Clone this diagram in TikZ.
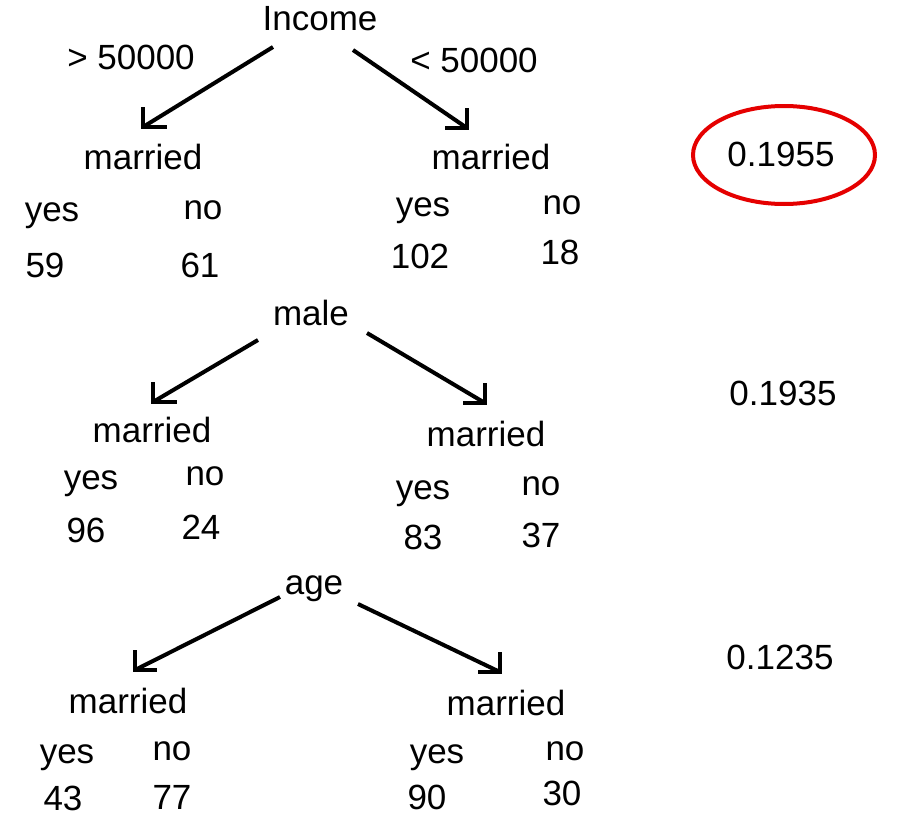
\documentclass[tikz,border=0pt]{standalone}
\usepackage{fontspec}
\setmainfont{Liberation Sans}
\begin{document}
\begin{tikzpicture}[x=1pt,y=-1pt,
  lbl/.style={inner sep=0pt, font=\fontsize{35}{38}\selectfont},
  conn/.style={line width=4pt, black, line cap=butt},
  barb/.style={line width=4pt, black, line join=miter}]
\useasboundingbox (0,0) rectangle (898,827);
\fill[white] (0,0) rectangle (898,827);
% ---------- Level 1: Income ----------
\node[lbl] (income) at (320,19) {Income};
\node[lbl] (gt) at (131,57) {> 50000};
\node[lbl] (lt) at (474,60) {< 50000};
\coordinate (i1s) at (273,47);
\coordinate (i1t) at (143,127);
\coordinate (i2s) at (353,50);
\coordinate (i2t) at (467,128);
\draw[conn] (i1s) -- (i1t);
\draw[barb] ([yshift=20pt]i1t) -- (i1t) -- ([xshift=24pt]i1t);
\draw[conn] (i2s) -- (i2t);
\draw[barb] ([yshift=20pt]i2t) -- (i2t) -- ([xshift=-22pt]i2t);
\node[lbl] (m1) at (143,157) {married};
\node[lbl] (m2) at (491,157) {married};
\node[lbl] (y1) at (52,216) {yes};
\node[lbl] (n1) at (203,210) {no};
\node[lbl] (v1a) at (45,265) {59};
\node[lbl] (v1b) at (200,265) {61};
\node[lbl] (y2) at (423,211) {yes};
\node[lbl] (n2) at (562,205) {no};
\node[lbl] (v2a) at (420,256) {102};
\node[lbl] (v2b) at (560,252) {18};
\node[lbl] (s1) at (781,154) {0.1955};
\draw[red!90!black, line width=4pt] (784,155) ellipse [x radius=91, y radius=49];
% ---------- Level 2: male ----------
\node[lbl] (male) at (311,313) {male};
\coordinate (k1s) at (258,340);
\coordinate (k1t) at (153,402);
\coordinate (k2s) at (367,333);
\coordinate (k2t) at (485,403);
\draw[conn] (k1s) -- (k1t);
\draw[barb] ([yshift=20pt]k1t) -- (k1t) -- ([xshift=24pt]k1t);
\draw[conn] (k2s) -- (k2t);
\draw[barb] ([yshift=20pt]k2t) -- (k2t) -- ([xshift=-22pt]k2t);
\node[lbl] (m3) at (152,430) {married};
\node[lbl] (m4) at (486,434) {married};
\node[lbl] (y3) at (91,484) {yes};
\node[lbl] (n3) at (205,476) {no};
\node[lbl] (v3a) at (86,530) {96};
\node[lbl] (v3b) at (201,527) {24};
\node[lbl] (y4) at (423,494) {yes};
\node[lbl] (n4) at (541,486) {no};
\node[lbl] (v4a) at (423,537) {83};
\node[lbl] (v4b) at (541,535) {37};
\node[lbl] (s2) at (783,393) {0.1935};
% ---------- Level 3: age ----------
\node[lbl] (age) at (314,589) {age};
\coordinate (a1s) at (280,597);
\coordinate (a1t) at (135,670);
\coordinate (a2s) at (358,604);
\coordinate (a2t) at (500,672);
\draw[conn] (a1s) -- (a1t);
\draw[barb] ([yshift=20pt]a1t) -- (a1t) -- ([xshift=22pt]a1t);
\draw[conn] (a2s) -- (a2t);
\draw[barb] ([yshift=20pt]a2t) -- (a2t) -- ([xshift=-22pt]a2t);
\node[lbl] (m5) at (128,701) {married};
\node[lbl] (m6) at (506,703) {married};
\node[lbl] (y5) at (67,758) {yes};
\node[lbl] (n5) at (172,751) {no};
\node[lbl] (v5a) at (63,798) {43};
\node[lbl] (v5b) at (172,797) {77};
\node[lbl] (y6) at (437,758) {yes};
\node[lbl] (n6) at (565,751) {no};
\node[lbl] (v6a) at (427,797) {90};
\node[lbl] (v6b) at (562,793) {30};
\node[lbl] (s3) at (780,657) {0.1235};
\end{tikzpicture}
\end{document}
